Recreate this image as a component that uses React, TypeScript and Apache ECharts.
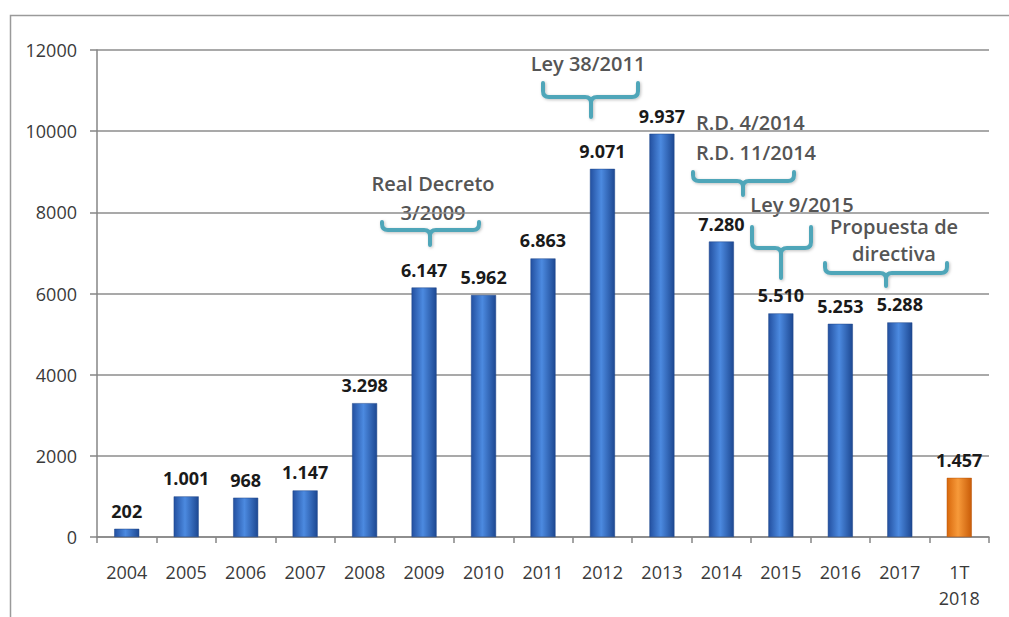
import React, { useEffect, useRef } from "react";
import * as echarts from "echarts";

const categories = ["2004", "2005", "2006", "2007", "2008", "2009", "2010", "2011", "2012", "2013", "2014", "2015", "2016", "2017", "1T\n2018"];
const values = [202, 1001, 968, 1147, 3298, 6147, 5962, 6863, 9071, 9937, 7280, 5510, 5253, 5288, 1457];
const highlightIndex = 14;
const yTicks = { min: 0, max: 12000, interval: 2000 };

const annotations = [
  { lines: ["Real Decreto", "3/2009"], x: 433, y: [183, 212], align: "center" },
  { lines: ["Ley 38/2011"], x: 588, y: [63], align: "center" },
  { lines: ["R.D. 4/2014", "R.D. 11/2014"], x: 696, y: [122, 152], align: "left" },
  { lines: ["Ley 9/2015"], x: 802, y: [204], align: "center" },
  { lines: ["Propuesta de", "directiva"], x: 894, y: [226, 253], align: "center" },
];

// braces: left, right, top of ends, horizontal line, tip bottom, tip x
const braces = [
  [382, 479, 222, 230, 245, 430],
  [543, 638, 83, 97, 117, 591],
  [693, 794, 172, 181, 195, 743],
  [752, 811, 227, 248, 278, 781],
  [825, 947, 263, 273, 286, 886],
];

function bracePath(L: number, R: number, T: number, H: number, B: number, C: number) {
  const r = 6;
  return [
    `M ${L} ${T}`,
    `L ${L} ${H - r}`,
    `Q ${L} ${H} ${L + r} ${H}`,
    `L ${C - r} ${H}`,
    `Q ${C} ${H} ${C} ${H + r}`,
    `L ${C} ${B}`,
    `M ${C} ${H + r}`,
    `Q ${C} ${H} ${C + r} ${H}`,
    `L ${R - r} ${H}`,
    `Q ${R} ${H} ${R} ${H - r}`,
    `L ${R} ${T}`,
  ].join(" ");
}

const fmt = (v: number) => String(v).replace(/\B(?=(\d{3})+(?!\d))/g, ".");

export default function App() {
  const ref = useRef<HTMLDivElement>(null);
  useEffect(() => {
    if (!ref.current) return;
    braces.forEach((b, i) => {
      echarts.graphic.registerShape("brace" + i, echarts.graphic.extendPath(bracePath(b[0], b[1], b[2], b[3], b[4], b[5]), {}));
    });
    const chart = echarts.init(ref.current, null, { renderer: "svg" });
    const blue = new echarts.graphic.LinearGradient(0, 0, 1, 0, [
      { offset: 0, color: "#2350a0" },
      { offset: 0.45, color: "#4c8ae0" },
      { offset: 1, color: "#1d4892" },
    ]);
    const orange = new echarts.graphic.LinearGradient(0, 0, 1, 0, [
      { offset: 0, color: "#d8680c" },
      { offset: 0.45, color: "#f79a3a" },
      { offset: 1, color: "#c95c08" },
    ]);
    const font = "'Open Sans', sans-serif";
    const graphics: any[] = [
      {
        type: "polyline",
        shape: { points: [[10.5, 640], [10.5, 15.5], [1020, 15.5]] },
        style: { stroke: "#9a9a9a", lineWidth: 1.5, fill: null },
        silent: true,
      },
    ];
    braces.forEach((_, i) => {
      graphics.push({
        type: "brace" + i,
        x: 0,
        y: 0,
        style: { stroke: "#4fa6b9", lineWidth: 4, fill: null, lineCap: "round", shadowBlur: 3, shadowColor: "rgba(0,0,0,0.25)", shadowOffsetX: 1, shadowOffsetY: 1 },
        silent: true,
      });
    });
    annotations.forEach((a) => {
      a.lines.forEach((t, j) => {
        graphics.push({
          type: "text",
          x: a.x,
          y: a.y[j],
          style: {
            text: t,
            font: `600 20px ${font}`,
            fill: "#555555",
            textAlign: a.align,
            textVerticalAlign: "middle",
          },
          silent: true,
        });
      });
    });
    chart.setOption({
      animation: false,
      backgroundColor: "#ffffff",
      grid: { left: 97, right: 20, top: 50, bottom: 80, containLabel: false },
      xAxis: {
        type: "category",
        data: categories,
        axisLine: { lineStyle: { color: "#868686", width: 1.5 } },
        axisTick: { show: true, length: 6, lineStyle: { color: "#868686", width: 1.5 } },
        axisLabel: { color: "#3a3a3a", fontSize: 18, fontFamily: font, margin: 22, lineHeight: 26, interval: 0 },
      },
      yAxis: {
        type: "value",
        min: yTicks.min,
        max: yTicks.max,
        interval: yTicks.interval,
        axisLine: { show: true, lineStyle: { color: "#868686", width: 1.5 } },
        axisTick: { show: true, length: 7, lineStyle: { color: "#868686", width: 1.5 } },
        axisLabel: { color: "#3a3a3a", fontSize: 18, fontFamily: font, margin: 20, formatter: (v: number) => String(v) },
        splitLine: { lineStyle: { color: "#8c8c8c", width: 1.5 } },
      },
      series: [
        {
          type: "bar",
          barWidth: 25,
          data: values.map((v, i) => ({
            value: v,
            itemStyle: { color: i === highlightIndex ? orange : blue, borderColor: i === highlightIndex ? "#b85206" : "#1c4588", borderWidth: 0.5 },
          })),
          label: {
            show: true,
            position: "top",
            distance: 9,
            formatter: (p: any) => fmt(p.value),
            color: "#1a1a1a",
            fontSize: 18,
            fontWeight: "bold",
            fontFamily: font,
          },
        },
      ],
      graphic: graphics,
    });
    return () => chart.dispose();
  }, []);
  return <div ref={ref} style={{ position: "fixed", left: 0, top: 0, width: 1009, height: 617 }} />;
}
